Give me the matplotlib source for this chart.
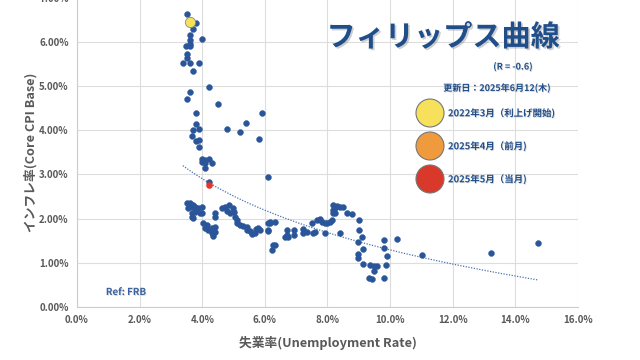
import matplotlib
matplotlib.use("Agg")
import matplotlib.pyplot as plt
import matplotlib.patheffects as pe
from matplotlib.ticker import PercentFormatter
import numpy as np

plt.rcParams['font.family'] = ['Noto Sans CJK JP', 'DejaVu Sans']

# Unemployment rate (%) and core CPI inflation (%)
unemployment = [
    3.50, 3.80, 3.71, 3.62, 3.62, 3.60, 3.49, 3.62, 4.00, 3.50, 3.52, 3.40, 3.61, 3.91, 3.70,
    4.20, 3.62, 3.50, 4.50, 3.80, 5.90, 5.41, 3.80, 4.80, 3.70, 3.91, 5.21, 3.68, 5.81, 3.80,
    3.91, 3.90, 3.99, 4.10, 4.20, 3.99, 4.10, 4.30, 4.10, 6.11, 4.20,
    3.50, 3.61, 3.72, 3.56, 3.66, 3.77, 3.87, 3.98, 3.66, 3.77, 3.93, 4.00, 3.66, 3.72, 4.41,
    4.41, 4.03, 4.14, 4.09, 4.19, 4.30, 4.41, 4.30, 4.35, 4.41, 4.62, 4.73, 4.87, 4.98, 4.78,
    4.89, 5.00, 5.05, 5.10, 5.10, 5.20, 5.31, 5.42, 5.42, 5.52, 5.58, 5.69, 5.72, 5.79, 5.84,
    6.11, 6.17, 6.11, 6.27, 6.15, 6.11, 6.33, 6.22, 6.33, 6.70, 6.70, 6.65, 6.75, 6.93, 6.93,
    7.21, 7.23, 7.34, 7.50, 7.53, 7.60, 7.66, 7.76, 7.82, 7.92, 7.98, 8.08, 8.14, 7.92, 8.19,
    8.30, 8.24, 8.19, 8.24, 8.19, 8.40, 8.51, 8.62, 8.78, 8.40, 9.01, 9.01, 9.10, 8.99, 9.12,
    8.99, 8.99, 9.12, 9.36, 9.47, 9.58, 9.49, 9.31, 9.42, 9.82, 9.82, 9.89, 9.87, 9.82, 10.21,
    11.01, 13.22, 14.72,
]
inflation = [
    6.64, 6.43, 6.30, 6.15, 6.04, 5.96, 5.90, 5.90, 6.07, 5.72, 5.63, 5.53, 5.53, 5.53, 5.34,
    4.97, 4.86, 4.71, 4.59, 4.38, 4.40, 4.17, 4.13, 4.03, 4.00, 4.02, 3.95, 3.88, 3.79, 3.76,
    3.78, 3.63, 3.35, 3.33, 3.34, 3.27, 3.25, 3.25, 3.14, 2.95, 2.82,
    2.35, 2.36, 2.31, 2.23, 2.26, 2.26, 2.23, 2.26, 2.13, 2.15, 2.13, 2.13, 2.04, 2.01, 2.12,
    2.04, 1.89, 1.86, 1.78, 1.74, 1.78, 1.82, 1.67, 1.60, 1.70, 2.23, 2.26, 2.31, 2.25, 2.17,
    2.13, 2.15, 2.04, 1.97, 1.89, 1.86, 1.83, 1.82, 1.74, 1.71, 1.65, 1.67, 1.76, 1.78, 1.74,
    1.89, 1.93, 1.72, 1.40, 1.91, 1.74, 1.93, 1.29, 1.40, 1.74, 1.63, 1.59, 1.58, 1.74, 1.63,
    1.76, 1.68, 1.70, 1.89, 1.67, 1.70, 1.97, 1.98, 1.93, 1.89, 1.91, 1.93, 1.97, 1.68, 2.31,
    2.29, 2.23, 2.19, 2.12, 2.12, 2.27, 2.27, 2.12, 2.10, 1.68, 1.97, 1.74, 1.58, 1.46, 1.31,
    1.20, 1.12, 0.97, 0.95, 0.93, 0.93, 0.82, 0.66, 0.63, 1.52, 1.33, 1.15, 0.95, 0.66, 1.53,
    1.18, 1.23, 1.44,
]

# Excel log trendline, y% = a + b*ln(x%), coefficients
trend_a = 5.34
trend_b = -1.758
trend_from = 3.38
trend_to = 14.74

# highlighted months
hike_start = (3.6, 6.45)    # 2022年3月
current = (4.2, 2.75)       # 2025年5月

legend_labels = ['2022年3月（利上げ開始)', '2025年4月（前月)', '2025年5月（当月)']
legend_colors = ['#f7e15a', '#ef9a3c', '#d9392b']

title = 'フィリップス曲線'
r_text = '(R = -0.6)'
updated = '更新日：2025年6月12(木)'

navy = '#1f4e8a'
dot = '#2a5599'
gray = '#595959'

fig = plt.figure(figsize=(6.4, 3.6), dpi=100)
ax = fig.add_axes([0.1203, 0.1472, 0.7828, 0.8594])

x = np.array(unemployment) / 100
y = np.array(inflation) / 100
ax.scatter(x, y, s=18, color=dot, edgecolors=dot, linewidths=0.3, zorder=3)

tx = np.linspace(trend_from, trend_to, 200)
ax.plot(tx / 100, (trend_a + trend_b * np.log(tx)) / 100, linestyle=(0, (1, 1.2)),
        color='#4a72b0', lw=0.9, zorder=2)

ax.scatter([hike_start[0] / 100], [hike_start[1] / 100], s=55, color=legend_colors[0],
           edgecolors='#888888', linewidths=0.6, zorder=4)
ax.scatter([current[0] / 100], [current[1] / 100], s=14, color='#e8332a', zorder=4)

ax.set_xlim(0, 0.16)
ax.set_ylim(0, 0.0695)
ax.set_xticks(np.arange(0, 0.161, 0.02))
ax.set_yticks(np.arange(0, 0.071, 0.01))
ax.xaxis.set_major_formatter(PercentFormatter(1.0, decimals=1))
ax.yaxis.set_major_formatter(PercentFormatter(1.0, decimals=2))
ax.tick_params(length=0, labelsize=7, colors=gray, pad=6)
for lab in ax.get_xticklabels() + ax.get_yticklabels():
    lab.set_fontweight('bold')
ax.grid(True, color='#dddddd', lw=0.8, zorder=0)
ax.set_axisbelow(True)
for side in ['top', 'right']:
    ax.spines[side].set_visible(False)
for side in ['left', 'bottom']:
    ax.spines[side].set_color('#cccccc')

ax.set_xlabel('失業率(Unemployment Rate)', fontsize=9.2, fontweight='bold', color=gray, labelpad=8)
ax.set_ylabel('インフレ率(Core CPI Base)', fontsize=9.2, fontweight='bold', color=gray, labelpad=1)

shadow = [pe.SimplePatchShadow(offset=(1.2, -1.2), shadow_rgbFace='#777777', alpha=0.35), pe.Normal()]
small_shadow = [pe.SimplePatchShadow(offset=(0.6, -0.6), shadow_rgbFace='#888888', alpha=0.3), pe.Normal()]

fig.text(443 / 640, 1 - 37 / 360, title, fontsize=21, fontweight='bold', color=navy,
         ha='center', va='center', path_effects=shadow)
fig.text(513 / 640, 1 - 67 / 360, r_text, fontsize=6.5, fontweight='bold', color=navy,
         ha='center', va='center', path_effects=small_shadow)
fig.text(497 / 640, 1 - 88 / 360, updated, fontsize=6.5, fontweight='bold', color=navy,
         ha='center', va='center', path_effects=small_shadow)

for i, (lab, col) in enumerate(zip(legend_labels, legend_colors)):
    cy = 1 - (113 + i * 33) / 360
    fig.patches.append(matplotlib.patches.Ellipse((430 / 640, cy), 28 / 640, 28 / 360,
                       transform=fig.transFigure, facecolor=col, edgecolor='#777777', lw=0.8))
    fig.text(448 / 640, cy, lab, fontsize=6.8, fontweight='bold', color=navy,
             ha='left', va='center', path_effects=small_shadow)

fig.text(126 / 640, 1 - 292 / 360, 'Ref: FRB', fontsize=7, fontweight='bold', color='#3a62a0',
         ha='center', va='center', path_effects=small_shadow)

fig.savefig('out.png', dpi=100)
